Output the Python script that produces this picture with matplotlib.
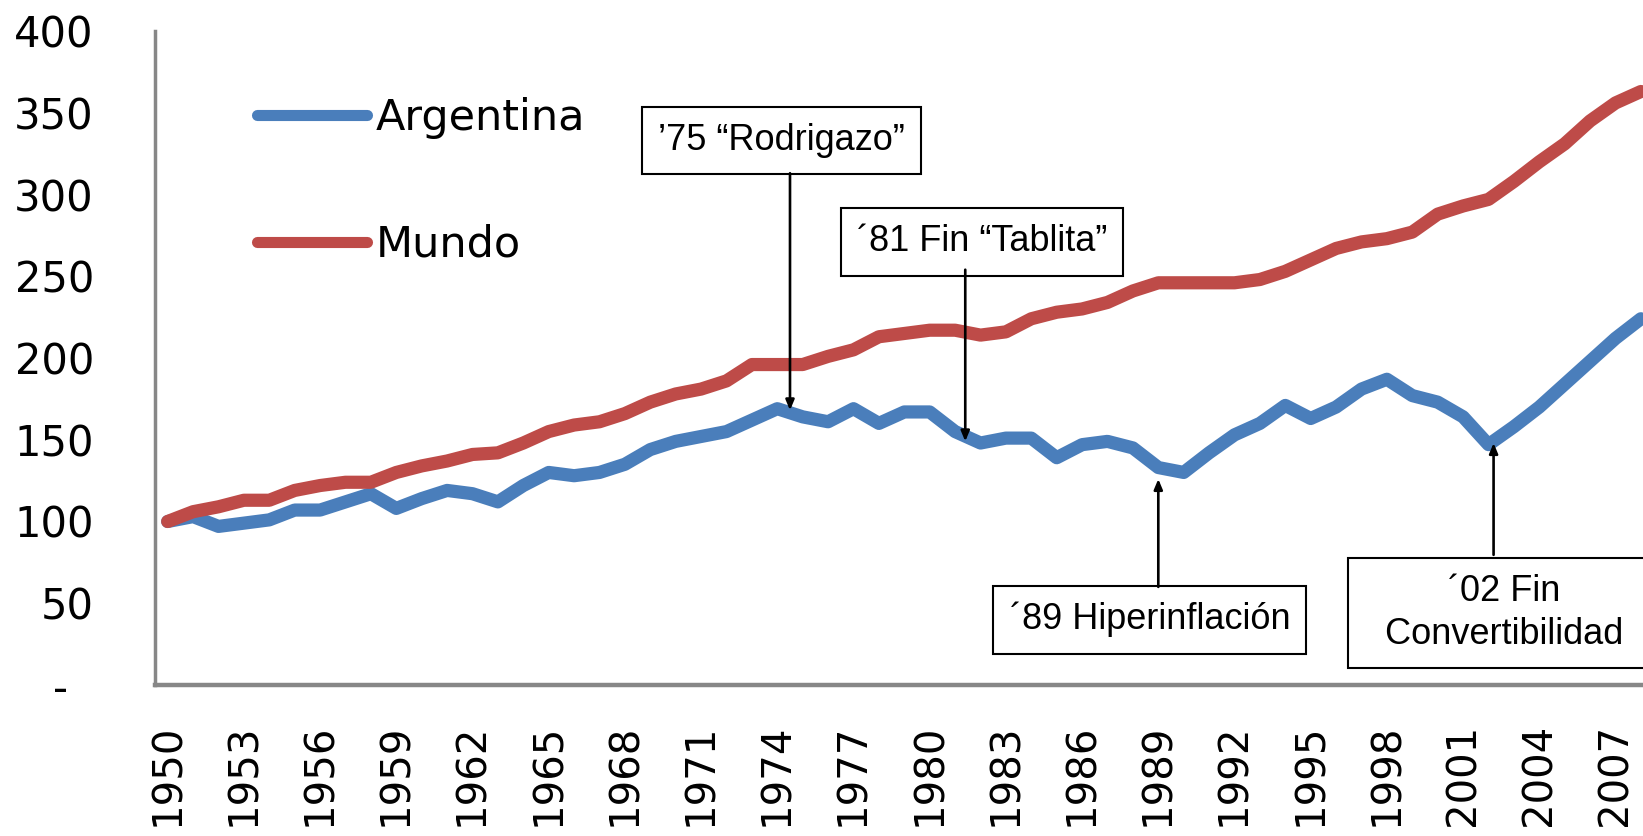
import numpy as np
import matplotlib
matplotlib.use('Agg')
import matplotlib.pyplot as plt

years = np.arange(1950, 2009)

argentina = [100, 103, 97, 99, 101, 107, 107, 112, 117, 108,
             114, 119, 117, 112, 122, 130, 128, 130, 135, 144,
             149, 152, 155, 162, 169, 164, 161, 169, 160, 167,
             167, 155, 148, 151, 151, 139, 147, 149, 145, 133,
             130, 142, 153, 160, 171, 163, 170, 181, 187, 177,
             173, 164, 147, 158, 170, 184, 198, 212, 224]

mundo = [100, 106, 109, 113, 113, 119, 122, 124, 124, 130,
         134, 137, 141, 142, 148, 155, 159, 161, 166, 173,
         178, 181, 186, 196, 196, 196, 201, 205, 213, 215,
         217, 217, 214, 216, 224, 228, 230, 234, 241, 246,
         246, 246, 246, 248, 253, 260, 267, 271, 273, 277,
         288, 293, 297, 308, 320, 331, 345, 356, 363]

ytick_vals = [0, 50, 100, 150, 200, 250, 300, 350, 400]
ytick_labels = ['-', '50', '100', '150', '200', '250', '300', '350', '400']
xtick_vals = list(range(1950, 2008, 3))

# annotation boxes: text, box centre (year, value), arrow tail, arrow tip
notes = [
    ('\u201975 \u201cRodrigazo\u201d', (1974.17, 333), (1974.5, 313), (1974.5, 168)),
    ('\u00b481 Fin \u201cTablita\u201d', (1982.06, 271), (1981.4, 254), (1981.4, 149)),
    ('\u00b489 Hiperinflaci\u00f3n', (1988.67, 40), (1989.0, 60), (1989.0, 126)),
    ('\u00b402 Fin\n\u00a0\u00a0Convertibilidad\u00a0\u00a0', (2002.6, 44), (2002.2, 79.6), (2002.2, 148)),
]

blue = '#4A7EBB'
red = '#BE4B48'
grey = '#878787'

fig = plt.figure(figsize=(16.43, 8.36), dpi=100)
ax = fig.add_axes([155 / 1643, 1 - 685 / 836, 1498.6 / 1643, 654 / 836])

ax.plot(years, argentina, color=blue, lw=9.5, label='Argentina',
        solid_capstyle='round', solid_joinstyle='round')
ax.plot(years, mundo, color=red, lw=9.5, label='Mundo',
        solid_capstyle='round', solid_joinstyle='round')

ax.set_xlim(1949.5, 2008.5)
ax.set_ylim(0, 400)

for s in ['top', 'right']:
    ax.spines[s].set_visible(False)
ax.spines['left'].set_color(grey)
ax.spines['left'].set_linewidth(2.5)
ax.spines['bottom'].set_color(grey)
ax.spines['bottom'].set_linewidth(3.2)

ax.set_yticks(ytick_vals)
ax.set_yticklabels(ytick_labels, fontsize=30, family='DejaVu Sans')
ax.set_xticks(xtick_vals)
ax.set_xticklabels([str(y) for y in xtick_vals], rotation=90, fontsize=29,
                   family='DejaVu Sans')
ax.tick_params(axis='y', length=0, pad=44)
ax.tick_params(axis='x', length=0, pad=28)
# the dash for zero sits further left, as in the accounting format
ax.get_yticklabels()[0].set_x(-0.0175)

for txt, centre, tail, tip in notes:
    ax.text(centre[0], centre[1], txt, ha='center', va='center',
            fontsize=26, family='Liberation Sans', multialignment='center',
            linespacing=1.3,
            bbox=dict(boxstyle='square,pad=0.45', fc='white', ec='black', lw=1.5),
            zorder=5)
    ax.annotate('', xy=tip, xytext=tail,
                arrowprops=dict(arrowstyle='-|>,head_length=0.6,head_width=0.25',
                                color='black', lw=1.9, shrinkA=0, shrinkB=0),
                zorder=6)

leg = ax.legend(loc='upper left', bbox_to_anchor=(257 / 1643, 1 - 97 / 836),
                bbox_transform=fig.transFigure, frameon=False,
                prop={'family': 'DejaVu Sans', 'size': 31},
                handlelength=2.55, handletextpad=0.2, labelspacing=1.97,
                borderpad=0, borderaxespad=0)
for line in leg.get_lines():
    line.set_linewidth(8)
    line.set_solid_capstyle('round')

fig.savefig('out.png', dpi=100)
